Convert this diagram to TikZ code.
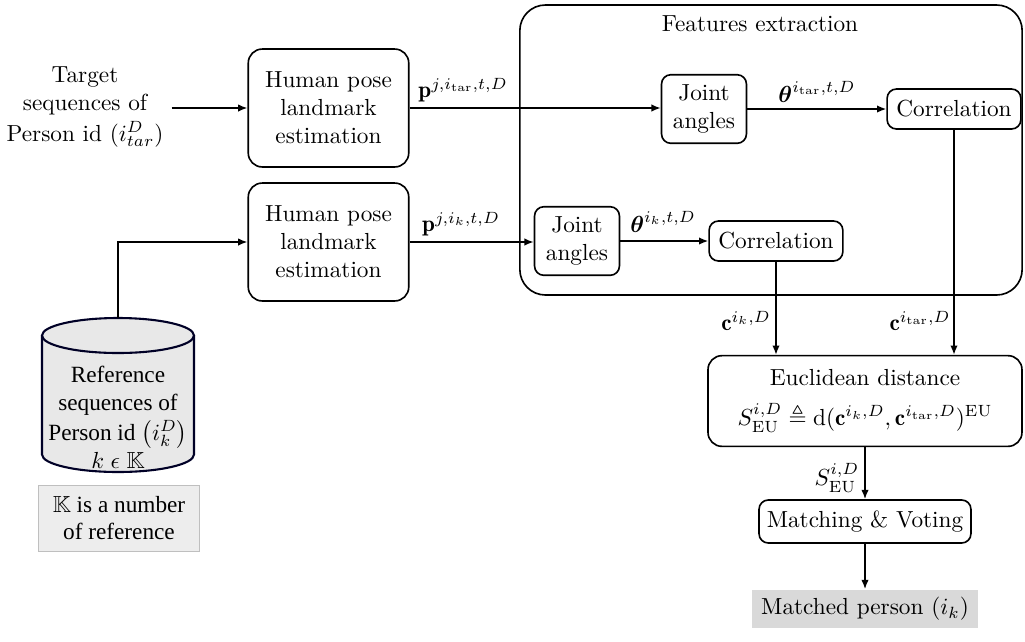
\documentclass[tikz,border=0pt]{standalone}
\usepackage{amsmath,amssymb}
\usepackage{fontspec}
\newfontfamily\refserif{Liberation Serif}
\usetikzlibrary{arrows.meta}

\tikzset{
    bigbox/.style={draw, line width=0.7pt, rounded corners=6pt, align=center,
        minimum width=69pt, minimum height=50.7pt},
    smallbox/.style={draw, line width=0.7pt, rounded corners=4pt, align=center},
    flow/.style={line width=0.7pt, -{Latex[length=4pt,width=3.2pt]}},
    cyl/.style={draw=black!85!blue, line width=0.9pt, fill=black!9},
}

\begin{document}
\begin{tikzpicture}[x=0.43pt, y=-0.43pt]

    % --- Canvas (pixel grid of the sketch) ---
    \useasboundingbox (0,0) rectangle (1025,641);

    % --- Features extraction frame ---
    \node[draw, line width=0.7pt, rounded corners=11pt,
        minimum width=216pt, minimum height=124.7pt] (fe) at (771,150) {};
    \node (fetitle) at (760,24) {Features extraction};

    % --- Inputs ---
    \node[align=center] (tgt) at (85,107)
        {Target\\sequences of\\[1pt]Person id ($i_{tar}^{D}$)};

    % Reference database: cylinder body, then its top cap
    \filldraw[cyl] (42,335.5) -- (42,454.5)
        arc[start angle=180, end angle=0, x radius=76, y radius=17.5] -- (194,335.5);
    \filldraw[cyl] (118,335.5) ellipse[x radius=76, y radius=17.5];
    \coordinate (refdb) at (118,318);
    \node[align=center, font=\refserif] (refdbtext) at (118,417)
        {Reference\\[0pt]sequences of\\[1pt]Person id $\bigl(i_{k}^{D}\bigr)$\\[0pt]$k \mathrel{\epsilon} \mathbb{K}$};

    \node[draw=black!25, line width=0.4pt, fill=black!7, align=center,
        font=\refserif, minimum width=69pt, minimum height=28.4pt] (note) at (119,518)
        {$\mathbb{K}$ is a number\\of reference};

    % --- Pose estimation ---
    \node[bigbox] (hpe1) at (328.5,108) {Human pose\\landmark\\estimation};
    \node[bigbox] (hpe2) at (328.5,242) {Human pose\\landmark\\estimation};

    % --- Joint angles and correlation ---
    \node[smallbox, minimum width=36.5pt, minimum height=29.5pt] (ja1) at (704,109) {Joint\\angles};
    \node[smallbox, minimum width=57.5pt, minimum height=17.2pt] (cor1) at (954,109) {Correlation};
    \node[smallbox, minimum width=36.5pt, minimum height=29.5pt] (ja2) at (577,241) {Joint\\angles};
    \node[smallbox, minimum width=57.5pt, minimum height=17.2pt] (cor2) at (776,241) {Correlation};

    % --- Distance, matching, result ---
    \node[smallbox, rounded corners=6pt, minimum width=135pt, minimum height=39pt] (eu) at (865,401)
        {Euclidean distance\\[5pt]
        $S^{i,D}_{\mathrm{EU}} \triangleq \mathrm{d}(\mathbf{c}^{i_{k},D}, \mathbf{c}^{i_{\mathrm{tar}},D})^{\mathrm{EU}}$};
    \node[smallbox, minimum width=89pt, minimum height=18.5pt] (match) at (865,521.5) {Matching \& Voting};
    \node[fill=black!15, minimum width=97pt, minimum height=16.3pt] (result) at (865,609)
        {Matched person ($i_{k}$)};

    % --- Connectors ---
    \draw[flow] (tgt.east |- hpe1.west) -- (hpe1.west);
    \draw[flow] (refdb) |- (hpe2.west);
    \draw[flow] (hpe1.east) -- (hpe1.east -| ja1.west);
    \draw[flow] (hpe2.east) -- (hpe2.east -| ja2.west);
    \draw[flow] (ja1.east |- cor1.west) -- (cor1.west);
    \draw[flow] (ja2.east |- cor2.west) -- (cor2.west);
    \draw[flow] (cor2.south) -- (cor2.south |- eu.north);
    \draw[flow] (cor1.south) -- (cor1.south |- eu.north);
    \draw[flow] (eu.south) -- (match.north);
    \draw[flow] (match.south) -- (result.north);

    % --- Arrow labels ---
    \node (lblp1) at (463,90) {$\mathbf{p}^{j,i_{\mathrm{tar}},t,D}$};
    \node (lblp2) at (461,224) {$\mathbf{p}^{j,i_{k},t,D}$};
    \node (lblth1) at (817,92) {$\boldsymbol{\theta}^{i_{\mathrm{tar}},t,D}$};
    \node (lblth2) at (663,222) {$\boldsymbol{\theta}^{i_{k},t,D}$};
    \node (lblc2) at (746,321) {$\mathbf{c}^{i_{k},D}$};
    \node (lblc1) at (920,321) {$\mathbf{c}^{i_{\mathrm{tar}},D}$};
    \node (lbls) at (837,478) {$S^{i,D}_{\mathrm{EU}}$};

\end{tikzpicture}
\end{document}
